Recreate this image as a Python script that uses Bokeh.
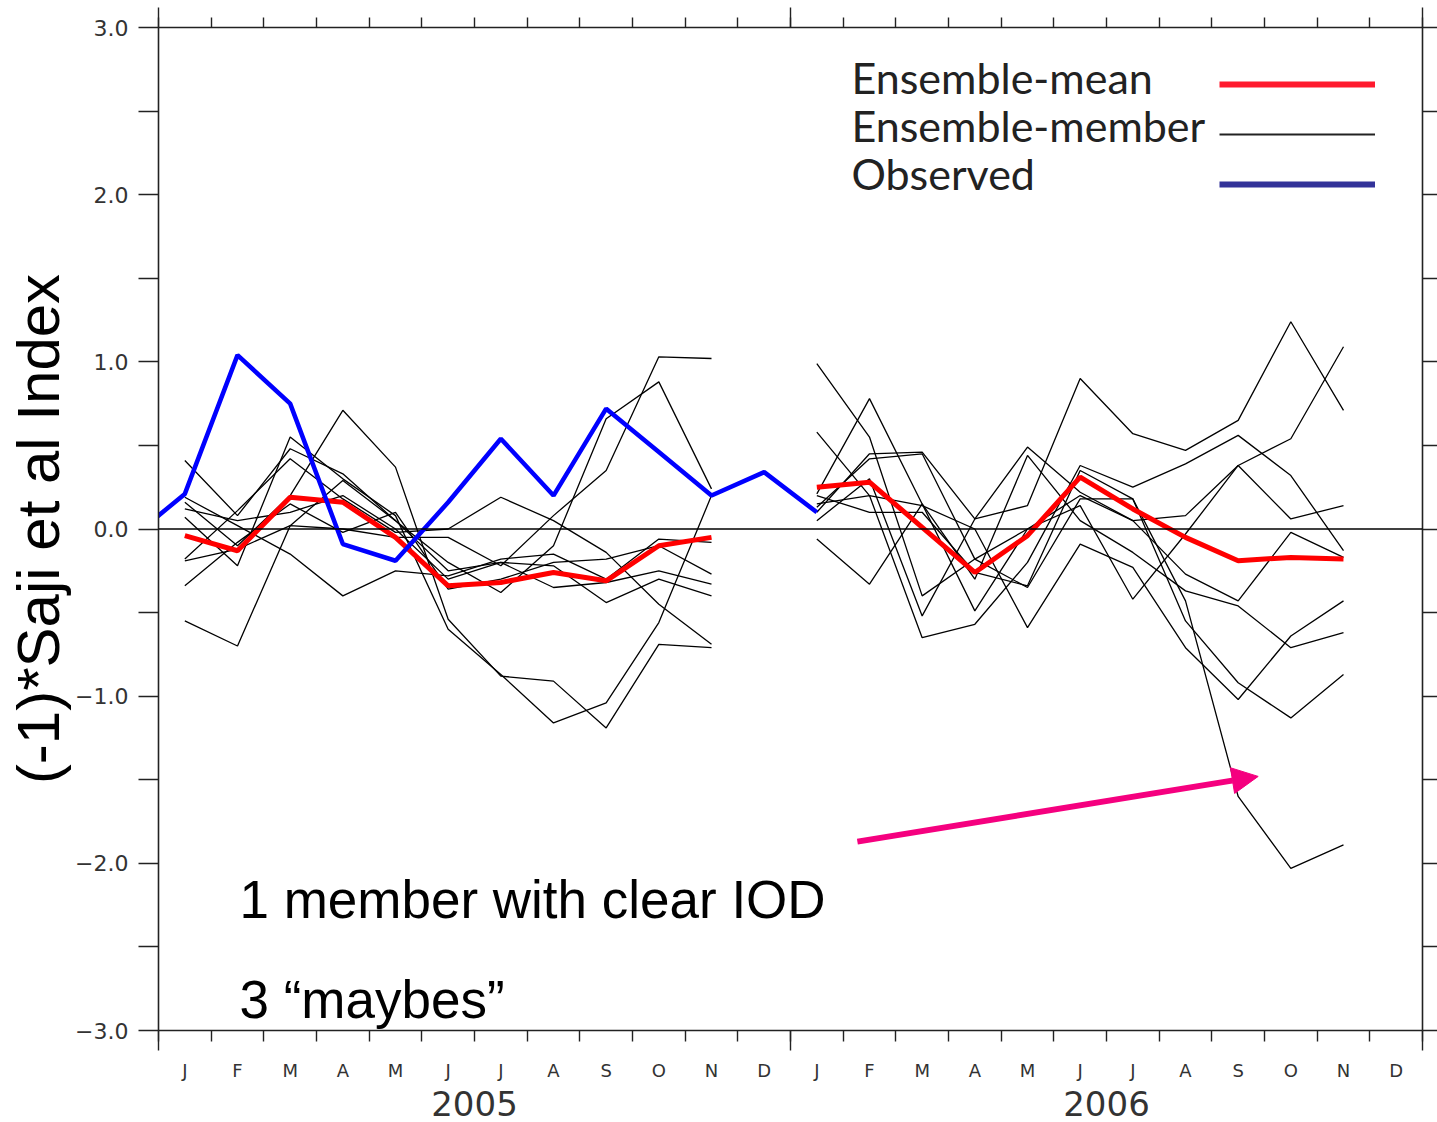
import numpy as np
from bokeh.plotting import figure
from bokeh.models import (Range1d, LinearAxis, FixedTicker, Span, Label, Legend,
                          LegendItem, Arrow, NormalHead, CustomLabelingPolicy)
from bokeh.embed import file_html
from bokeh.resources import INLINE

# ---------------- data ----------------
month_letters = ["J", "F", "M", "A", "M", "J", "J", "A", "S", "O", "N", "D"] * 2
years = ["2005", "2006"]
year_centers = [5.5, 17.5]
y_ticks = [-3, -2, -1, 0, 1, 2, 3]
y_minor = [-2.5, -1.5, -0.5, 0.5, 1.5, 2.5]
y_tick_labels = {-3: "\u22123.0", -2: "\u22122.0", -1: "\u22121.0", 0: "0.0",
                 1: "1.0", 2: "2.0", 3: "3.0"}

# month index: 0 = Jan 2005 ... 23 = Dec 2006
obs_months = list(range(-1, 13))           # Dec 2004 .. Jan 2006
observed = [-0.05, 0.21, 1.04, 0.75, -0.09, -0.19, 0.16, 0.54, 0.20, 0.72, 0.46, 0.20, 0.34, 0.10]

months_2005 = list(range(0, 11))           # Jan..Nov 2005
months_2006 = list(range(12, 23))          # Jan..Nov 2006

mean_2005 = [-0.04, -0.13, 0.19, 0.16, -0.05, -0.34, -0.32, -0.26, -0.31, -0.10, -0.05]
mean_2006 = [0.25, 0.28, 0.01, -0.26, -0.04, 0.31, 0.12, -0.05, -0.19, -0.17, -0.18]

members_2005 = [
    [-0.55, -0.70, 0.02, 0.00, -0.05, -0.05, -0.22, 0.08, 0.35, 1.03, 1.02],
    [0.41, 0.08, 0.48, 0.33, 0.05, -0.25, -0.20, -0.22, -0.44, -0.30, -0.40],
    [0.19, 0.02, -0.15, -0.40, -0.25, -0.28, -0.18, -0.15, -0.30, -0.06, -0.08],
    [0.16, -0.10, 0.20, 0.71, 0.37, -0.54, -0.88, -0.91, -1.19, -0.69, -0.71],
    [0.07, -0.22, 0.55, 0.30, 0.08, -0.60, -0.87, -1.16, -1.04, -0.56, 0.20],
    [-0.18, 0.11, 0.42, 0.18, -0.02, 0.00, 0.19, 0.05, -0.14, -0.45, -0.69],
    [-0.19, -0.12, 0.02, 0.29, 0.05, -0.20, -0.38, -0.10, 0.66, 0.88, 0.24],
    [-0.34, -0.08, 0.15, -0.02, 0.10, -0.36, -0.30, -0.20, -0.18, -0.10, -0.27],
    [0.12, 0.05, 0.10, 0.20, 0.00, -0.30, -0.20, -0.35, -0.32, -0.25, -0.33],
]

members_2006 = [
    [0.99, 0.55, -0.40, -0.18, 0.00, 0.20, 0.05, 0.08, 0.38, 0.54, 1.09],
    [0.58, 0.20, -0.65, -0.57, -0.20, 0.38, 0.25, 0.39, 0.56, 0.32, -0.13],
    [0.21, 0.78, 0.15, -0.49, 0.00, 0.14, -0.42, -0.03, 0.38, 0.06, 0.14],
    [0.13, 0.42, 0.45, -0.18, -0.35, 0.18, 0.18, -0.43, -1.60, -2.03, -1.89],
    [0.10, 0.45, 0.46, 0.06, 0.14, 0.90, 0.57, 0.47, 0.65, 1.24, 0.71],
    [0.05, 0.30, -0.52, 0.06, 0.49, 0.22, 0.05, -0.27, -0.43, -0.02, -0.17],
    [-0.06, -0.33, 0.15, -0.30, 0.44, 0.05, -0.14, -0.37, -0.46, -0.71, -0.62],
    [0.15, 0.20, 0.14, 0.00, -0.59, -0.09, -0.23, -0.71, -1.02, -0.64, -0.43],
    [0.20, 0.10, 0.10, -0.26, -0.34, 0.35, 0.18, -0.55, -0.92, -1.13, -0.87],
]

legend_labels = ["Ensemble-mean", "Ensemble-member", "Observed"]
note_lines = ["1 member with clear IOD", "3 \u201cmaybes\u201d"]
y_title = "(-1)*Saji et al Index"
arrow_start = (12.77, -1.87)
arrow_end = (20.38, -1.48)

# ---------------- figure ----------------
p = figure(width=1437, height=1122, x_range=Range1d(-0.5, 23.5), y_range=Range1d(-3, 3),
           output_backend="svg", toolbar_location=None,
           x_axis_location=None, y_axis_location=None,
           min_border_left=158, min_border_right=15, min_border_top=27, min_border_bottom=92)
p.grid.visible = False
p.outline_line_color = None
p.background_fill_color = "white"
p.border_fill_color = "white"

month_bounds = [i - 0.5 for i in range(25)]
year_bounds = [-0.5, 11.5, 23.5]
AX = "#222222"
TICKFONT = "DejaVu Sans"


def frame_axis(ax):
    ax.axis_line_color = AX
    ax.axis_line_width = 1.6
    ax.major_tick_line_color = AX
    ax.minor_tick_line_color = AX
    ax.major_tick_line_width = 1.4
    ax.minor_tick_line_width = 1.4
    ax.major_tick_in = 0
    ax.minor_tick_in = 0


def ticks_only(ax):
    # ticks at year boundaries are drawn, but no tick label is shown
    ax.major_label_policy = CustomLabelingPolicy(code="")
    ax.major_label_text_font_size = "1px"
    ax.major_label_standoff = 0


# top: month boundary ticks, longer ticks at year boundaries
ax_top = LinearAxis(ticker=FixedTicker(ticks=year_bounds, minor_ticks=month_bounds))
frame_axis(ax_top)
ticks_only(ax_top)
ax_top.major_tick_out = 20
ax_top.minor_tick_out = 10
p.add_layout(ax_top, "above")

# bottom 0: month boundary ticks, longer ticks at year boundaries
ax_b0 = LinearAxis(ticker=FixedTicker(ticks=year_bounds, minor_ticks=month_bounds))
frame_axis(ax_b0)
ticks_only(ax_b0)
ax_b0.major_tick_out = 20
ax_b0.minor_tick_out = 11
p.add_layout(ax_b0, "below")

# bottom 1: month letters at month centres
ax_b1 = LinearAxis(ticker=FixedTicker(ticks=list(range(24))),
                   major_label_overrides={i: month_letters[i] for i in range(24)})
ax_b1.axis_line_color = None
ax_b1.major_tick_line_color = None
ax_b1.minor_tick_line_color = None
ax_b1.major_tick_out = 0
ax_b1.minor_tick_out = 0
ax_b1.major_label_standoff = 5
ax_b1.major_label_text_font = TICKFONT
ax_b1.major_label_text_font_size = "18px"
ax_b1.major_label_text_color = "#333333"
p.add_layout(ax_b1, "below")

# bottom 2: year labels
ax_b2 = LinearAxis(ticker=FixedTicker(ticks=year_centers),
                   major_label_overrides={c: y for c, y in zip(year_centers, years)})
ax_b2.axis_line_color = None
ax_b2.major_tick_line_color = None
ax_b2.minor_tick_line_color = None
ax_b2.major_tick_out = 0
ax_b2.minor_tick_out = 0
ax_b2.major_label_standoff = 7
ax_b2.major_label_text_font = TICKFONT
ax_b2.major_label_text_font_size = "34px"
ax_b2.major_label_text_color = "#333333"
p.add_layout(ax_b2, "below")

# left
ax_l = LinearAxis(ticker=FixedTicker(ticks=y_ticks, minor_ticks=y_minor),
                  major_label_overrides=y_tick_labels, axis_label=y_title)
frame_axis(ax_l)
ax_l.major_tick_out = 20
ax_l.minor_tick_out = 20
ax_l.major_label_standoff = 10
ax_l.major_label_text_font = TICKFONT
ax_l.major_label_text_font_size = "22px"
ax_l.major_label_text_color = "#333333"
ax_l.axis_label_text_font = "Liberation Sans"
ax_l.axis_label_text_font_size = "60px"
ax_l.axis_label_text_font_style = "normal"
ax_l.axis_label_text_color = "black"
ax_l.axis_label_standoff = 0
p.add_layout(ax_l, "left")

# right: ticks only
ax_r = LinearAxis(ticker=FixedTicker(ticks=[], minor_ticks=sorted(y_ticks + y_minor)))
frame_axis(ax_r)
ax_r.major_tick_out = 15
ax_r.minor_tick_out = 15
p.add_layout(ax_r, "right")

# zero line
p.add_layout(Span(location=0, dimension="width", line_color="black", line_width=1.6))

# ---------------- series ----------------
for m in members_2005:
    p.line(months_2005, m, line_color="black", line_width=1.3)
for m in members_2006:
    p.line(months_2006, m, line_color="black", line_width=1.3)

p.line(months_2005, mean_2005, line_color="#ff0000", line_width=5)
p.line(months_2006, mean_2006, line_color="#ff0000", line_width=5)
p.line(obs_months, observed, line_color="#0000ff", line_width=4.5)

# legend line samples (style-only renderers, nothing drawn in the plot)
nan = [float("nan")]
r_leg_mean = p.line(nan, nan, line_color="#ff1a2e", line_width=6)
r_leg_mem = p.line(nan, nan, line_color="#222222", line_width=2)
r_leg_obs = p.line(nan, nan, line_color="#333399", line_width=6)
legend = Legend(items=[LegendItem(label=" ", renderers=[r_leg_mean]),
                       LegendItem(label=" ", renderers=[r_leg_mem]),
                       LegendItem(label=" ", renderers=[r_leg_obs])],
                location=(1061, 821), orientation="vertical",
                glyph_width=156, glyph_height=50, spacing=0, padding=0, margin=0,
                label_width=0, label_height=0, label_standoff=0,
                label_text_font_size="10px", border_line_color=None,
                background_fill_alpha=0)
p.add_layout(legend)

for txt, yy in zip(legend_labels, [953, 905, 857]):
    p.add_layout(Label(x=693, y=yy, x_units="screen", y_units="screen", text=txt,
                       text_font="Lato", text_font_size="43px", text_color="#222222",
                       text_align="left", text_baseline="middle"))

# notes
for txt, yy in zip(note_lines, [131, 31]):
    p.add_layout(Label(x=81, y=yy, x_units="screen", y_units="screen", text=txt,
                       text_font="Liberation Sans", text_font_size="53px",
                       text_color="black", text_align="left", text_baseline="middle"))

# arrow
pink = "#f5007f"
p.add_layout(Arrow(end=NormalHead(size=26, fill_color=pink, line_color=pink),
                   x_start=arrow_start[0], y_start=arrow_start[1],
                   x_end=arrow_end[0], y_end=arrow_end[1],
                   line_color=pink, line_width=6))

open("out.html", "w").write(file_html(p, INLINE))
